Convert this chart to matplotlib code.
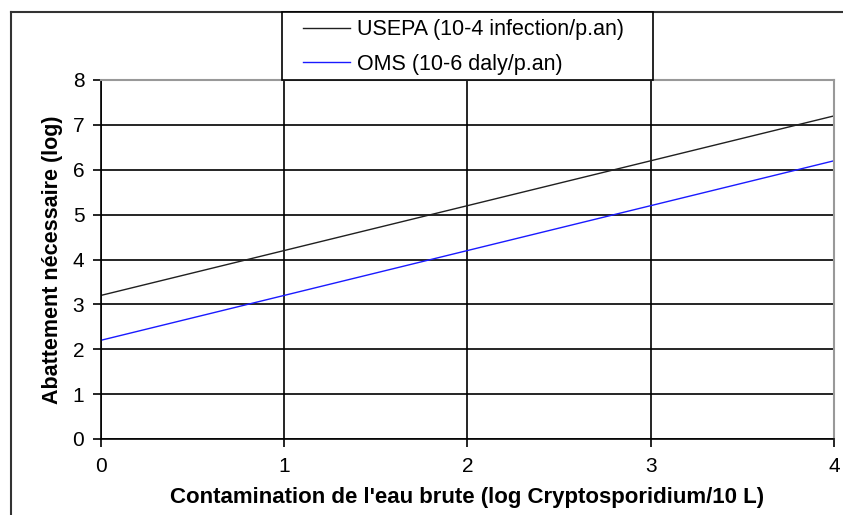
import numpy as np
import matplotlib.pyplot as plt
from matplotlib.patches import Rectangle
from matplotlib.lines import Line2D

plt.rcParams['font.family'] = ['Liberation Sans', 'DejaVu Sans']

# data
contamination = [0, 1, 2, 3, 4]
usepa = [3.2, 4.2, 5.2, 6.2, 7.2]
oms = [2.2, 3.2, 4.2, 5.2, 6.2]
labels = ["USEPA (10-4 infection/p.an)", "OMS (10-6 daly/p.an)"]

W, H = 843, 515
fig = plt.figure(figsize=(W / 100, H / 100), dpi=100)
ax = fig.add_axes([101 / W, 1 - 439 / H, 733 / W, 359 / H])

ax.plot(contamination, usepa, color='#202020', lw=1.0, label=labels[0])
ax.plot(contamination, oms, color='#1a1aff', lw=1.0, label=labels[1])

ax.set_xlim(0, 4)
ax.set_ylim(0, 8)
ax.set_xticks(range(0, 5))
ax.set_yticks(range(0, 9))
ax.grid(True, color='black', lw=1.2)
ax.set_axisbelow(True)
for s in ['left', 'bottom']:
    ax.spines[s].set_color('black')
    ax.spines[s].set_linewidth(1.2)
for s in ['top', 'right']:
    ax.spines[s].set_color('#999999')
    ax.spines[s].set_linewidth(1.5)
ax.tick_params(axis='both', labelsize=15, length=6, width=1.2, color='black')
ax.tick_params(axis='x', pad=7)
ax.tick_params(axis='y', pad=6)

ax.set_xlabel("Contamination de l'eau brute (log Cryptosporidium/10 L)",
              fontsize=16, fontweight='bold', labelpad=8)
ax.set_ylabel("Abattement nécessaire (log)", fontsize=15.5, fontweight='bold', labelpad=7)

# outer frame (top and left edges visible)
fig.add_artist(Line2D([11 / W, 11 / W], [0, 1 - 12 / H], color='#333333', lw=1.5,
                      transform=fig.transFigure))
fig.add_artist(Line2D([11 / W, 1], [1 - 12 / H, 1 - 12 / H], color='#333333', lw=1.5,
                      transform=fig.transFigure))

# legend box
fig.add_artist(Rectangle((282 / W, 1 - 80 / H), 371 / W, 68 / H, fill=True,
                         facecolor='white', edgecolor='black', lw=1.2,
                         transform=fig.transFigure, zorder=5))
leg = fig.legend(loc='center left', bbox_to_anchor=(292 / W, 1 - 47 / H),
                 frameon=False, fontsize=15.5, handlelength=2.2,
                 handletextpad=0.3, labelspacing=0.62, borderpad=0)
leg.set_zorder(6)

fig.savefig('out.png', dpi=100)
